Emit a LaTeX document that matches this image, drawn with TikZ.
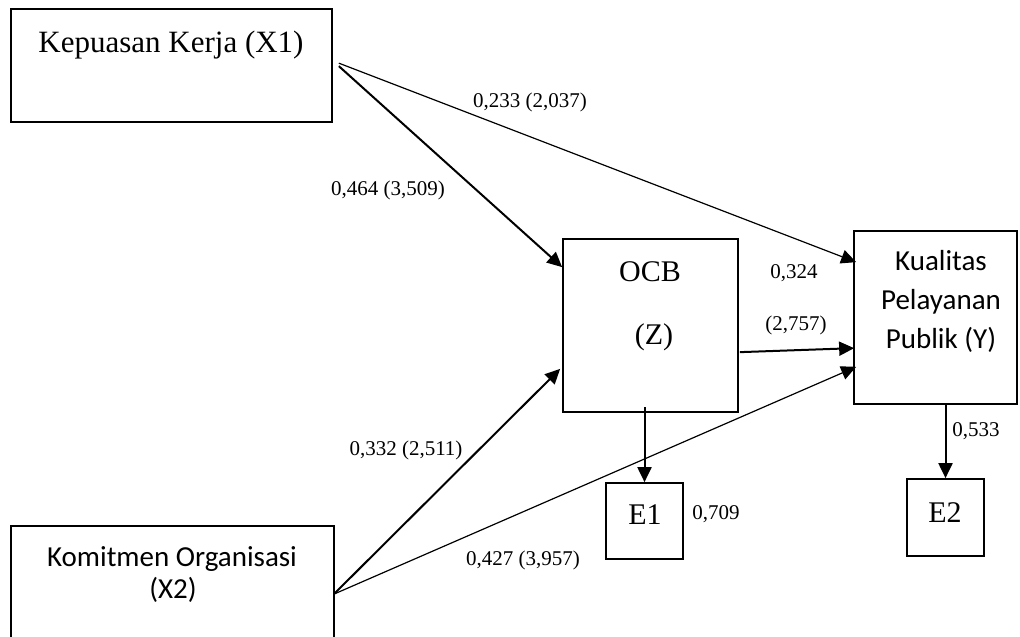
\documentclass[tikz,border=0pt]{standalone}
\usepackage{fontspec}
\setmainfont{Liberation Serif}
\newfontfamily\calib{Carlito}
\usetikzlibrary{arrows.meta,calc}
\begin{document}
\begin{tikzpicture}[x=1pt,y=-1pt,
  box/.style={draw,line width=1.7pt,inner sep=0pt},
  serif/.style={font=\fontsize{30}{36}\selectfont,inner sep=0pt,anchor=base},
  sans/.style={font=\calib\fontsize{29}{36}\selectfont,inner sep=0pt,anchor=base},
  lbl/.style={font=\fontsize{21}{24}\selectfont,inner sep=0pt,anchor=base},
  heavy/.style={line width=2pt,-{Triangle[length=15pt,width=14pt]}},
  light/.style={line width=1.2pt,-{Triangle[length=15pt,width=14pt]}}]
\clip (0,0) rectangle (1020,637);
% boxes
\node[box,minimum width=321pt,minimum height=113pt] (x1) at (171.5,65.5) {};
\node[box,minimum width=175pt,minimum height=173pt] (ocb) at (650.5,325.5) {};
\node[box,minimum width=163pt,minimum height=173pt] (yb) at (935.5,317.5) {};
\node[box,minimum width=77pt,minimum height=76pt] (e1) at (644.5,521) {};
\node[box,minimum width=77pt,minimum height=77pt] (e2) at (945.5,517.5) {};
\node[box,minimum width=323pt,minimum height=134pt] (x2) at (172.5,593) {};
% box texts
\node[serif,font=\fontsize{31}{36}\selectfont] (tx1) at (171,52) {Kepuasan Kerja (X1)};
\node[serif] (tocb) at (650,281) {OCB};
\node[serif] (tz) at (654,344) {(Z)};
\node[sans] (ty1) at (941,270) {Kualitas};
\node[sans] (ty2) at (941,309) {Pelayanan};
\node[sans] (ty3) at (941,348) {Publik (Y)};
\node[serif] (te1) at (645,524) {E1};
\node[serif] (te2) at (945,522) {E2};
\node[sans] (tx2a) at (172,566) {Komitmen Organisasi};
\node[sans] (tx2b) at (173,598) {(X2)};
% connector end points
\coordinate (x1a) at ($(x1.north east)+(6,55)$);
\coordinate (x1b) at ($(x1.north east)+(6,58)$);
\coordinate (x2o) at ($(x2.north east)+(-1,69)$);
\coordinate (ocbr) at ($(ocb.north east)+(1,114)$);
\coordinate (ocbd) at (e1.north |- {(0,407)});
\coordinate (yd) at (e2.north |- yb.south);
% arrows
\draw[heavy] (x1b) -- ($(ocb.north west)+(0,29)$);
\draw[light] (x1a) -- ($(yb.north west)+(3,32)$);
\draw[heavy] (x2o) -- ($(ocb.south west)+(-2,-44)$);
\draw[light] (x2o) -- ($(yb.south west)+(3,-38)$);
\draw[heavy] (ocbr) -- ($(yb.north west)+(1,118)$);
\draw[heavy] (ocbd) -- (e1.north);
\draw[heavy] (yd) -- (e2.north);
% labels
\node[lbl] (l1) at (530,107) {0,233 (2,037)};
\node[lbl] (l2) at (388,195) {0,464 (3,509)};
\node[lbl] (l3) at (794,278) {0,324};
\node[lbl] (l4) at (796,330) {(2,757)};
\node[lbl] (l5) at (406,455) {0,332 (2,511)};
\node[lbl] (l6) at (523,565) {0,427 (3,957)};
\node[lbl] (l7) at (716,519) {0,709};
\node[lbl] (l8) at (976,436) {0,533};
\end{tikzpicture}
\end{document}
